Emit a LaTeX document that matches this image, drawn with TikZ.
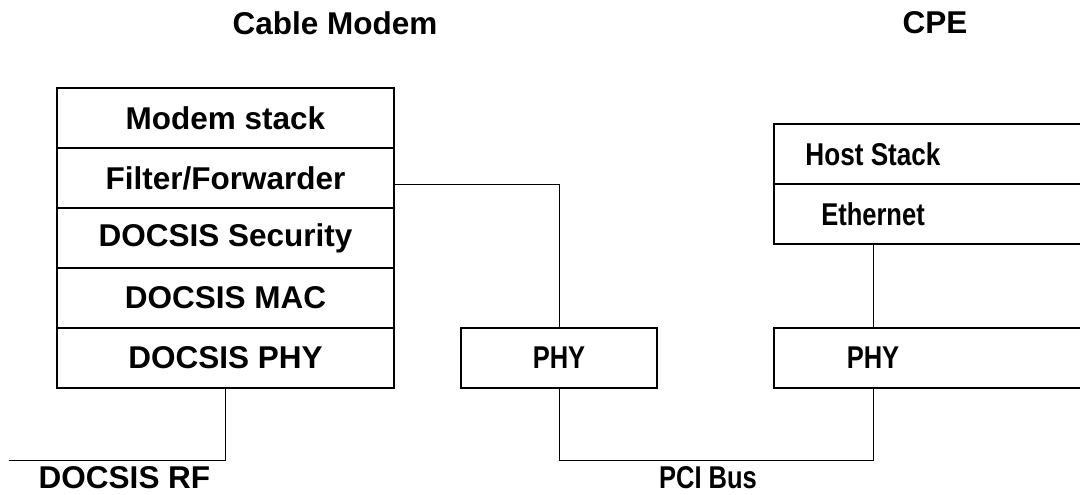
\documentclass[tikz,border=0pt]{standalone}
\usepackage{fontspec}
\setmainfont{Liberation Sans}
\usepackage{graphicx}
\usetikzlibrary{positioning}
\newcommand{\cpetext}[2][0.81]{\scalebox{#1}[1]{#2}}
\tikzset{
  layer/.style={draw, line width=1.2pt, outer sep=0pt, minimum width=337pt, minimum height=60pt, inner sep=0pt},
  phybox/.style={draw, line width=1.2pt, outer sep=0pt, minimum width=196pt, minimum height=60pt, inner sep=0pt},
  cpebox/.style={draw, line width=1.2pt, outer sep=0pt, minimum width=330pt, minimum height=60pt, inner sep=0pt, anchor=north west},
  wire/.style={line width=1pt},
  lbl/.style={inner sep=0pt}
}
\begin{document}
\begin{tikzpicture}[x=1pt,y=-1pt,font=\fontsize{31.5}{36}\selectfont\bfseries]
            \useasboundingbox (0,0) rectangle (1080,495);
            % titles
            \node[lbl] (cmtitle) at (335,23) {Cable Modem};
            \node[lbl] (cpetitle) at (935,23) {CPE};
            % cable modem stack
            \node[layer] (modem) at (225.5,118) {Modem stack};
            \node[layer, below=0pt of modem] (filter) {Filter/Forwarder};
            \node[layer, below=0pt of filter] (security) {DOCSIS Security};
            \node[layer, below=0pt of security] (mac) {DOCSIS MAC};
            \node[layer, below=0pt of mac] (dphy) {DOCSIS PHY};
            % PHY in the middle
            \node[phybox] (phy) at (559,358) {\cpetext{PHY}};
            % CPE side, runs off the right edge
            \node[cpebox] (host) at (774,124) {};
            \node[cpebox, below=0pt of host.south west, anchor=north west] (eth) {};
            \node[cpebox] (cpephy) at (774,328) {};
            \coordinate (cpeaxis) at (873,0);
            \node[lbl] at (host.center -| cpeaxis) {\cpetext[0.83]{Host Stack}};
            \node[lbl] at (eth.center -| cpeaxis) {\cpetext{Ethernet}};
            \node[lbl] at (cpephy.center -| cpeaxis) {\cpetext{PHY}};
            % wires
            \coordinate (rfend) at (9,460);
            \draw[wire] (dphy.south) |- (rfend);
            \draw[wire] ([yshift=-6pt]filter.east) -| (phy.north);
            \draw[wire] (phy.south) -- ++(0,72) coordinate (busleft) -| (cpephy.south -| cpeaxis);
            \draw[wire] (eth.south -| cpeaxis) -- (cpephy.north -| cpeaxis);
            \node[lbl] (rf) at (124.5,478) {DOCSIS RF};
            \node[lbl] (bus) at (708,478) {\cpetext{PCI Bus}};
        \end{tikzpicture}
\end{document}
